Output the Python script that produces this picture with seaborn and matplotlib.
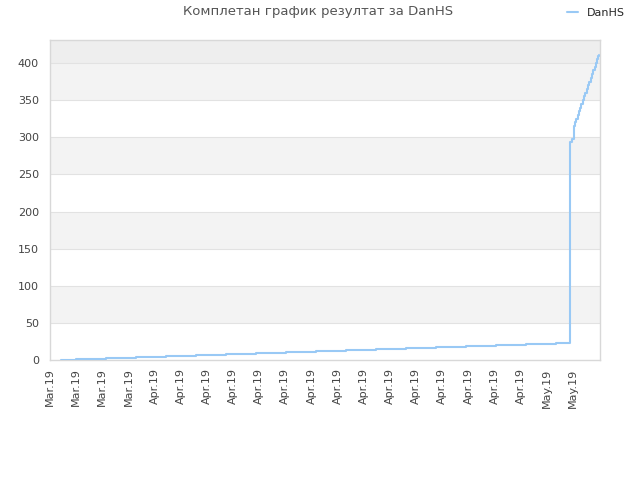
import matplotlib
matplotlib.use("Agg")
import matplotlib.pyplot as plt
import seaborn as sns
import pandas as pd

# x in tick-index units (ticks at 0..20), y = cumulative score
game_x = [0.42, 0.99, 2.14, 3.29, 4.44, 5.58, 6.73, 7.88, 9.02, 10.17,
          11.32, 12.47, 13.61, 14.76, 15.91, 17.06, 18.20, 19.35,
          19.89, 19.96, 20.02, 20.07, 20.12, 20.17, 20.22, 20.27,
          20.32, 20.37, 20.42, 20.47, 20.52, 20.57, 20.62, 20.67,
          20.72, 20.77, 20.82, 20.87, 20.92, 20.97, 20.99]
score = [0.5, 1.9, 3.2, 4.6, 5.9, 7.3, 8.6, 10.0, 11.3, 12.7,
         14.0, 15.4, 16.7, 18.1, 19.4, 20.8, 22.1, 23.5,
         293, 297, 315, 320, 325, 330, 335, 340,
         345, 350, 355, 360, 365, 370, 375, 380,
         385, 390, 395, 400, 405, 409, 411]
tick_labels = ["Mar.19"] * 4 + ["Apr.19"] * 15 + ["May.19"] * 2

df = pd.DataFrame({"x": game_x, "score": score})

sns.set_theme(style="white")
plt.rcParams["font.family"] = ["DejaVu Sans"]

fig = plt.figure(figsize=(6.4, 4.8), dpi=100)
ax = fig.add_axes([50 / 640, 120 / 480, 550 / 640, 320 / 480])

# alternating background bands
for lo in [50, 150, 250, 350]:
    ax.axhspan(lo, lo + 50, color="#f3f3f3", zorder=0, lw=0)
ax.axhspan(400, 431, color="#eeeeee", zorder=0, lw=0)
for yv in range(50, 450, 50):
    ax.axhline(yv, color="#e2e2e2", lw=0.8, zorder=1)

sns.lineplot(data=df, x="x", y="score", ax=ax, color="#99c9f5", lw=1.5,
             drawstyle="steps-post", estimator=None, sort=False,
             label="DanHS", zorder=3)

ax.set_xlim(0, 21.03)
ax.set_ylim(0, 431)
ax.set_yticks(range(0, 450, 50))
ax.set_xticks(range(len(tick_labels)))
ax.set_xticklabels(tick_labels, rotation=90)
ax.tick_params(axis="both", length=0, labelsize=8, labelcolor="#444444")
ax.tick_params(axis="x", pad=6)
ax.tick_params(axis="y", pad=8)
ax.set_xlabel("")
ax.set_ylabel("")
for s in ax.spines.values():
    s.set_color("#d8d8d8")
    s.set_linewidth(1)

fig.text(318 / 640, 1 - 12 / 480, "Комплетан график резултат за DanHS",
         ha="center", va="center", fontsize=9.5, color="#555555")
ax.legend(loc="center", bbox_to_anchor=(596 / 640, 1 - 13 / 480),
          bbox_transform=fig.transFigure, frameon=False, fontsize=8,
          handlelength=1.0, handletextpad=0.8)

fig.savefig("out.png", dpi=100)
